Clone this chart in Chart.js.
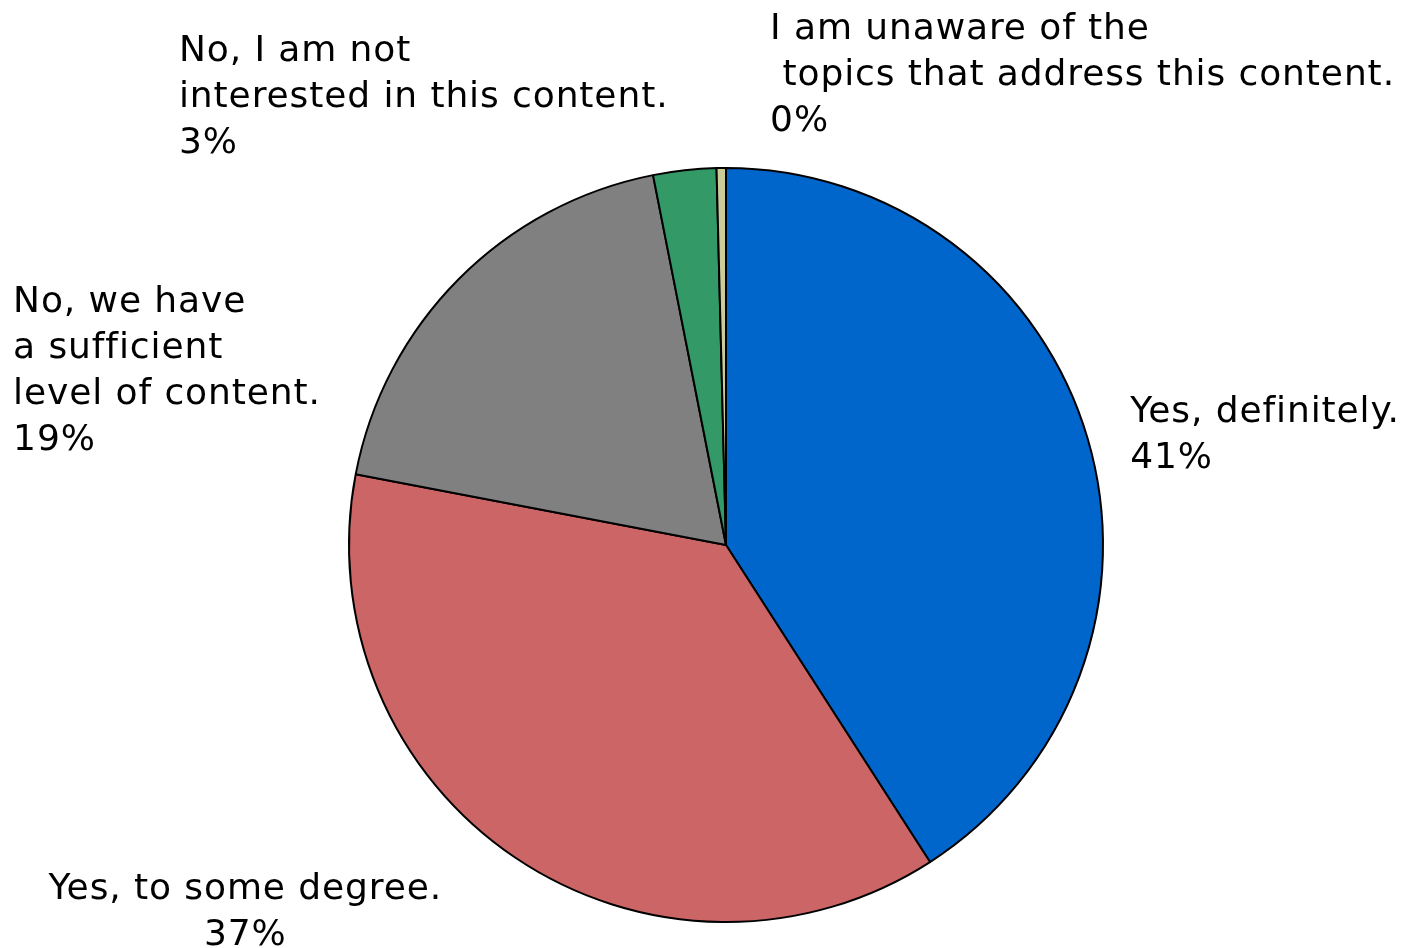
<!DOCTYPE html>
<html>
<head>
<meta charset="utf-8">
<script src="https://cdn.jsdelivr.net/npm/chart.js@4"></script>
<style>
  html, body { margin: 0; padding: 0; background: #ffffff; }
  #wrap { width: 1411px; height: 948px; }
</style>
</head>
<body>
<div id="wrap"><canvas id="myChart"></canvas></div>
<script>
// answers, clockwise from 12 o'clock
const categories = [
    ['Yes, definitely.'],
    ['Yes, to some degree.'],
    ['No, we have', 'a sufficient', 'level of content.'],
    ['No, I am not', 'interested in this content.'],
    ['I am unaware of the', ' topics that address this content.']
];
const shares = [40.9, 37.1, 18.9, 2.7, 0.4];
const sliceColors = ['#0066CC', '#CC6666', '#808080', '#339966', '#CCCC99'];

// where each label sits, in units of the pie radius from its centre
const labelSpots = [
    { dx: 1.072, dy: -0.326, align: 'left' },
    { dx: -1.275, dy: 0.939, align: 'center' },
    { dx: -1.891, dy: -0.618, align: 'left' },
    { dx: -1.451, dy: -1.284, align: 'left' },
    { dx: 0.117, dy: -1.342, align: 'left' }
];

const FONT = '36px "DejaVu Sans", Verdana, sans-serif';
const LINE = 46;

const outsideLabels = {
    id: 'outsideLabels',
    afterDraw(chart) {
        const ctx = chart.ctx;
        const meta = chart.getDatasetMeta(0);
        const total = shares.reduce((a, b) => a + b, 0);
        ctx.save();
        ctx.font = FONT;
        ctx.letterSpacing = '0.9px';
        ctx.fillStyle = '#000000';
        ctx.textBaseline = 'alphabetic';
        meta.data.forEach((arc, i) => {
            const r = arc.outerRadius;
            const spot = labelSpots[i];
            const x = arc.x + spot.dx * r;
            const y = arc.y + spot.dy * r;
            const lines = categories[i].concat([Math.round(shares[i] / total * 100) + '%']);
            ctx.textAlign = spot.align;
            lines.forEach((t, k) => ctx.fillText(t, x, y + k * LINE));
        });
        ctx.restore();
    }
};

const data = {
    labels: categories.map(c => c.join(' ')),
    datasets: [{
        data: shares,
        backgroundColor: sliceColors,
        borderColor: '#000000',
        borderWidth: 2
    }]
};

const config = {
    type: 'pie',
    data,
    plugins: [outsideLabels],
    options: {
        responsive: true,
        maintainAspectRatio: false,
        animation: false,
        layout: {
            padding: { top: 167, bottom: 25, left: 348, right: 307 }
        },
        plugins: {
            legend: { display: false },
            tooltip: { enabled: false }
        }
    }
};

const myChart = new Chart(document.getElementById('myChart'), config);
</script>
</body>
</html>
